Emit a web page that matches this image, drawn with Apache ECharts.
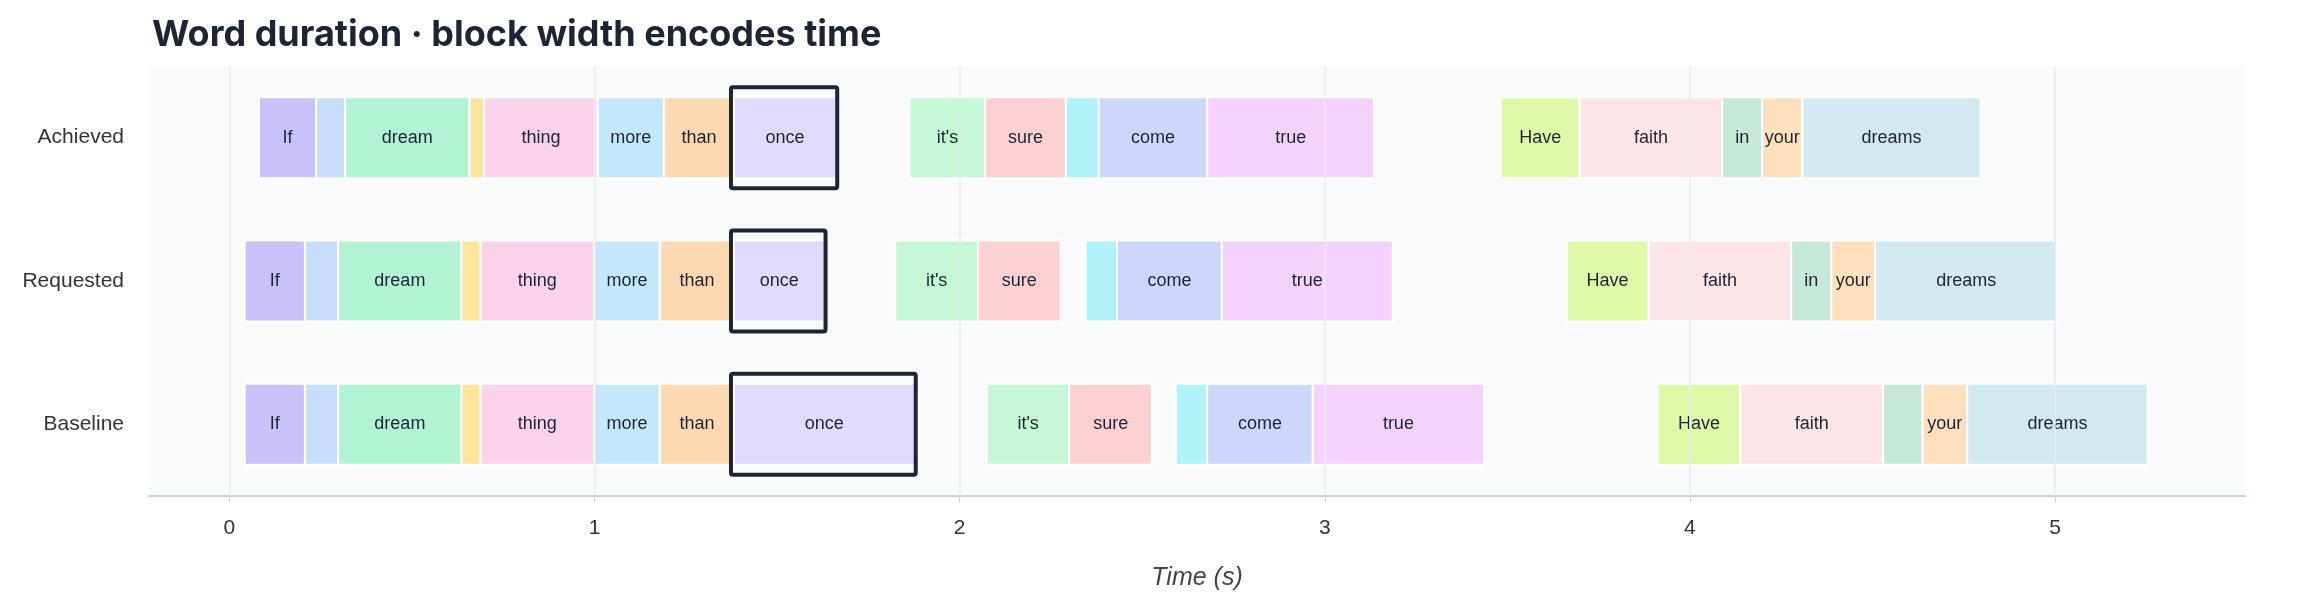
<!DOCTYPE html>
<html>
<head>
<meta charset="utf-8">
<script src="https://cdn.jsdelivr.net/npm/echarts@6/dist/echarts.min.js"></script>
<style>html,body{margin:0;padding:0;background:#fff}#chart{width:2310px;height:596px}</style>
</head>
<body>
<div id="chart"></div>
<script>
// rows, top to bottom
var rows = ['Achieved', 'Requested', 'Baseline'];
var words = ['If', 'you', 'dream', 'a', 'thing', 'more', 'than', 'once', "it's", 'sure', 'to', 'come', 'true', 'Have', 'faith', 'in', 'your', 'dreams'];
var wordColors = ['#c9c1f9', '#c7defb', '#b2f3d5', '#fde69b', '#fad2ea', '#c4e7fb', '#fdd9b2', '#e0dafd', '#c4f7d6', '#fdd1d1', '#b1f1fa', '#cdd6fc', '#f5d2fd', '#def8a8', '#fce4e7', '#c6e8d7', '#fee0bc', '#d3e9f1'];
// start / end times in seconds
var achievedStart = [0.081, 0.238, 0.317, 0.658, 0.698, 1.009, 1.190, 1.382, 1.863, 2.070, 2.291, 2.381, 2.678, 3.482, 3.698, 4.088, 4.198, 4.308];
var achievedEnd   = [0.238, 0.317, 0.658, 0.698, 1.009, 1.190, 1.382, 1.662, 2.070, 2.291, 2.381, 2.678, 3.135, 3.698, 4.088, 4.198, 4.308, 4.796];
var requestedStart = [0.042, 0.207, 0.298, 0.636, 0.688, 0.999, 1.179, 1.382, 1.824, 2.050, 2.345, 2.431, 2.718, 3.662, 3.887, 4.277, 4.387, 4.507];
var requestedEnd   = [0.207, 0.298, 0.636, 0.688, 0.999, 1.179, 1.382, 1.630, 2.050, 2.277, 2.431, 2.718, 3.186, 3.887, 4.277, 4.387, 4.507, 5.006];
var baselineStart = [0.042, 0.207, 0.298, 0.636, 0.688, 0.999, 1.179, 1.382, 2.075, 2.300, 2.592, 2.678, 2.967, 3.912, 4.138, 4.529, 4.637, 4.759];
var baselineEnd   = [0.207, 0.298, 0.636, 0.688, 0.999, 1.179, 1.382, 1.877, 2.300, 2.527, 2.678, 2.967, 3.436, 4.138, 4.529, 4.637, 4.759, 5.254];
var highlightWord = 'once';
var tickValues = [0, 1, 2, 3, 4, 5];

var starts = [achievedStart, requestedStart, baselineStart];
var ends = [achievedEnd, requestedEnd, baselineEnd];

var blocks = [];
rows.forEach(function (r, ri) {
    words.forEach(function (w, wi) {
        blocks.push([starts[ri][wi], ends[ri][wi], ri, w, wi]);
    });
});

var myChart = echarts.init(document.getElementById('chart'));

function renderBlock(params, api) {
    var ri = api.value(2);
    var p0 = api.coord([api.value(0), ri]);
    var p1 = api.coord([api.value(1), ri]);
    var h = api.size([0, 1])[1] * 0.565;
    var w = p1[0] - p0[0];
    var word = words[api.value(4)];
    var children = [{
        type: 'rect',
        shape: { x: p0[0], y: p0[1] - h / 2, width: w, height: h },
        style: { fill: wordColors[api.value(4)], stroke: '#fff', lineWidth: 2 }
    }];
    // narrow blocks get no label
    if (w >= 40) {
        children.push({
            type: 'text',
            style: {
                text: word, x: p0[0] + w / 2, y: p0[1], align: 'center', verticalAlign: 'middle',
                fill: '#1e2433', font: '18px "Liberation Sans", Arial, sans-serif'
            }
        });
    }
    if (word === highlightWord) {
        children.push({
            type: 'rect',
            shape: { x: p0[0] - 3, y: p0[1] - h / 2 - 10, width: w + 4, height: h + 20, r: 2 },
            style: { fill: 'none', stroke: '#1e2433', lineWidth: 4 },
            z2: 10
        });
    }
    return { type: 'group', children: children };
}

myChart.setOption({
    animation: false,
    title: {
        text: 'Word duration · block width encodes time',
        left: 147, top: 12,
        textStyle: { fontFamily: 'Inter', fontSize: 36, fontWeight: 'bold', color: '#1e2433' }
    },
    grid: {
        left: 149, right: 65, top: 66, bottom: 98,
        show: true, backgroundColor: '#f9fafc', borderWidth: 0
    },
    xAxis: {
        type: 'value', min: -0.22, max: 5.52,
        name: 'Time (s)', nameLocation: 'middle', nameGap: 70,
        nameTextStyle: { fontFamily: 'Liberation Sans', fontSize: 25, fontStyle: 'italic', color: '#444' },
        axisLine: { show: true, lineStyle: { color: '#cbd3df', width: 2 } },
        axisTick: { show: true, customValues: tickValues, length: 6, lineStyle: { color: '#cbd3df' } },
        axisLabel: { customValues: tickValues, fontFamily: 'Liberation Sans', fontSize: 21, color: '#333', margin: 22 },
        splitLine: { show: false }
    },
    yAxis: {
        type: 'category', data: rows, inverse: true,
        axisLine: { show: false }, axisTick: { show: false },
        axisLabel: { fontFamily: 'Liberation Sans', fontSize: 21, color: '#333', margin: 25 }
    },
    series: [{
        type: 'line', data: [], z: 1, silent: true,
        markLine: {
            symbol: 'none', silent: true, label: { show: false },
            lineStyle: { color: '#e8ebf0', width: 1.5, type: 'solid' },
            data: tickValues.map(function (v) { return { xAxis: v }; })
        }
    }, {
        type: 'custom', z: 3,
        renderItem: renderBlock,
        encode: { x: [0, 1], y: 2 },
        data: blocks
    }]
});
</script>
</body>
</html>
